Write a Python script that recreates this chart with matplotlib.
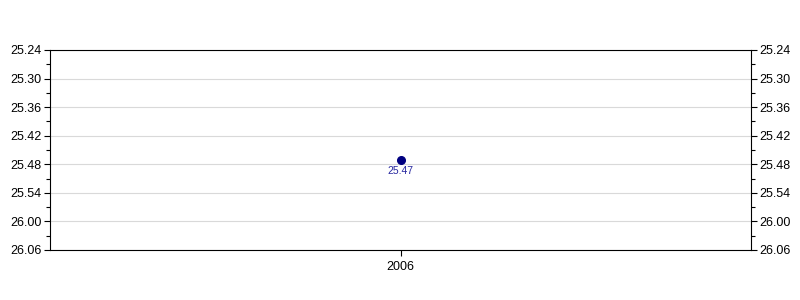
import matplotlib
matplotlib.use("Agg")
import matplotlib.pyplot as plt
from matplotlib.ticker import FixedLocator, MultipleLocator, FuncFormatter

plt.rcParams['font.family'] = ['Liberation Sans', 'DejaVu Sans']

categories = ["2006"]
times_min = [25]
times_sec = [47]
value_labels = ["25.47"]

values = [m * 60 + s for m, s in zip(times_min, times_sec)]

def fmt(v, pos=None):
    v = int(round(v))
    return f"{v // 60}.{v % 60:02d}"

fig = plt.figure(figsize=(8, 3), dpi=100)
ax = fig.add_axes([50/800, 50/300, 701/800, 200/300])

x = list(range(len(categories)))
ax.plot(x, values, 'o', color='#000080', markersize=5.5, zorder=3)
for xi, v, lab in zip(x, values, value_labels):
    ax.annotate(lab, (xi, v), xytext=(0, -5), textcoords='offset points',
                ha='center', va='top', fontsize=7.5, color='#2828a0')

ymin, ymax = 25*60+24, 26*60+6
ax.set_ylim(ymax, ymin)
ax.set_xlim(-1, 1)
ax.yaxis.set_major_locator(MultipleLocator(6))
ax.yaxis.set_minor_locator(MultipleLocator(3))
ax.yaxis.set_major_formatter(FuncFormatter(fmt))
ax.set_xticks(x)
ax.set_xticklabels(categories)
ax.grid(axis='y', which='major', color='#d9d9d9', linewidth=0.8)
ax.set_axisbelow(True)
ax.tick_params(axis='y', which='both', left=True, right=True, labelleft=True, labelright=True,
               direction='out', labelsize=9, length=4, width=0.8, pad=2)
ax.tick_params(axis='y', which='minor', length=3)
ax.tick_params(axis='x', direction='out', labelsize=9, length=4, pad=4)
for s in ax.spines.values():
    s.set_linewidth(0.8)

fig.savefig('out.png', dpi=100)
